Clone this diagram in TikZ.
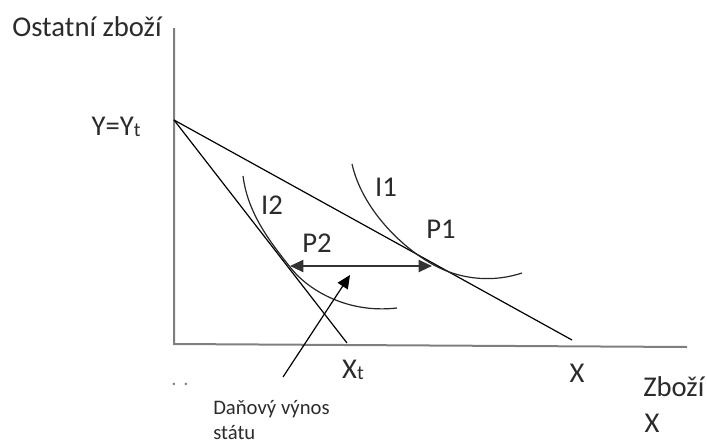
\documentclass[tikz,border=0pt]{standalone}
\usepackage{fontspec}
\setmainfont{Carlito}
\usetikzlibrary{arrows.meta,positioning}
\definecolor{axisgray}{HTML}{7F7F7F}
\definecolor{txt}{HTML}{2B2B2B}
\newcommand{\lowt}{\raisebox{-0.6pt}{\fontsize{15}{15}\selectfont t}}

\begin{document}
\begin{tikzpicture}[x=0.75pt,y=-0.75pt,
  axis/.style={draw=axisgray, line width=1.5pt},
  line/.style={draw=black, line width=0.9pt},
  curve/.style={draw=black!85, line width=0.9pt},
  lbl/.style={text=txt, font=\fontsize{21.5}{24}\selectfont, inner sep=0pt},
  small/.style={text=txt, font=\fontsize{15.5}{19}\selectfont, inner sep=0pt, align=left},
  tip/.tip={Triangle[length=10pt,width=9pt]}]
  \useasboundingbox (0,0) rectangle (707,443);

  % axes
  \coordinate (top) at (174,28);
  \coordinate (O) at (174,344);
  \coordinate (xend) at (687,347);
  \draw[axis] (top) -- (O) -- (xend);

  % budget lines
  \coordinate (Yt) at (174,120);
  \coordinate (Xt) at (347,343);
  \coordinate (X) at (572,340);
  \draw[line] (Yt) -- (X);
  \draw[line] (Yt) -- (Xt);

  % indifference curves
  \coordinate (P1) at (432,264);
  \coordinate (P2) at (290,267);
  \draw[curve] (352,164) .. controls (362,208) and (400,246) .. (P1)
               .. controls (462,281) and (495,282) .. (522,273);
  \draw[curve] (243,176) .. controls (248,215) and (272,244) .. (P2)
               .. controls (306,288) and (345,314) .. (397,308);

  % tax revenue
  \coordinate (a1) at (432,266);
  \coordinate (a2) at (290,266);
  \draw[line width=1.5pt, draw=black!80, {tip}-{tip}] (a2) -- (a1);
  \coordinate (ptail) at (283,377);
  \coordinate (phead) at (350,275);
  \draw[line, -{tip}] (ptail) -- (phead);

  % labels
  \node[lbl] (ylab) at (87,27) {Ostatní zboží};
  \node[lbl] (ytlab) at (116,127) {Y=Y\lowt};
  \node[lbl] (i1) at (386,187) {I1};
  \node[lbl] (i2) at (272,205) {I2};
  \node[lbl] (p2) at (317,243) {P2};
  \node[lbl] (p1) at (441,229) {P1};
  \node[lbl] (xtlab) at (353,370) {X\lowt};
  \node[lbl] (xlab) at (577,373) {X};
  \node[lbl, anchor=west] (zbozi) at (643,387) {Zboží};
  \node[lbl] (zx) at (652,423) {X};
  \node[small, anchor=north west] (dan) at (213,400) {Daňový výnos\\státu};
  \node[small, text=gray] (dots) at (180,384) {.\,\,.};
\end{tikzpicture}
\end{document}
